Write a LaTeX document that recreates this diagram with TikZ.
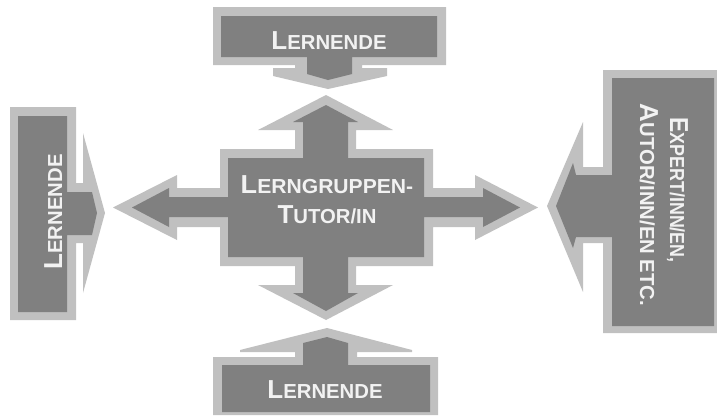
\documentclass[tikz,border=0pt]{standalone}
\usepackage{fontspec}
\setmainfont{Liberation Sans}
\definecolor{liteg}{HTML}{C0C0C0}
\definecolor{darkg}{HTML}{808080}
\definecolor{txtg}{HTML}{F2F2F2}
\newcommand\Kap[2]{{\fontsize{26}{30}\selectfont #1}{\fontsize{20.3}{30}\selectfont #2}}
\tikzset{
  lite/.style={fill=liteg},
  dark/.style={fill=darkg},
  lbl/.style={text=txtg, font=\bfseries, inner sep=0pt, anchor=base}
}
\begin{document}
\begin{tikzpicture}[x=1pt,y=-1pt]
\useasboundingbox (0,0) rectangle (717,416);
% ---- centre cross
\path[lite] (220,149) -- (295,149) -- (295,130) -- (258,130) -- (326,95) -- (393,130) -- (356,130) -- (356,149)
  -- (433,149) -- (433,188) -- (475,188) -- (475,175) -- (538,207.5) -- (475,240) -- (475,227) -- (433,227)
  -- (433,266) -- (356,266) -- (356,285) -- (393,285) -- (326,320) -- (258,285) -- (295,285) -- (295,266)
  -- (220,266) -- (220,227) -- (177,227) -- (177,240) -- (113,207.5) -- (177,175) -- (177,188) -- (220,188) -- cycle;
\path[dark] (228,158) -- (303,158) -- (303,122) -- (293,122) -- (326,105) -- (358,122) -- (348,122) -- (348,158)
  -- (424,158) -- (424,197) -- (483,197) -- (483,188) -- (520,207.5) -- (483,227) -- (483,217) -- (424,217)
  -- (424,257) -- (348,257) -- (348,293) -- (358,293) -- (326,311) -- (293,293) -- (303,293) -- (303,257)
  -- (228,257) -- (228,217) -- (169,217) -- (169,227) -- (132,207.5) -- (169,188) -- (169,197) -- (228,197) -- cycle;
% ---- top box
\path[lite] (213,7) -- (446,7) -- (446,65) -- (362,65) -- (362,68) -- (387,68) -- (387,76) -- (328,89)
  -- (273,76) -- (273,68) -- (295,68) -- (295,65) -- (213,65) -- cycle;
\path[dark] (221,16) -- (437,16) -- (437,57) -- (352,57) -- (352,74) -- (328,80) -- (307,74) -- (307,57) -- (221,57) -- cycle;
% ---- bottom box
\path[lite] (213,357) -- (295,357) -- (295,352) -- (240,352) -- (240,350) -- (327,328) -- (412,350) -- (412,352)
  -- (357,352) -- (357,357) -- (438,357) -- (438,415) -- (213,415) -- cycle;
\path[dark] (222,365) -- (303,365) -- (303,343) -- (327,337) -- (348,343) -- (348,365) -- (430,365) -- (430,412) -- (222,412) -- cycle;
% ---- left box
\path[lite] (10,107) -- (76,107) -- (76,183) -- (83,183) -- (83,133) -- (105,213) -- (83,293) -- (83,243)
  -- (76,243) -- (76,320) -- (10,320) -- cycle;
\path[dark] (18,116) -- (67,116) -- (67,192) -- (92,192) -- (97,213) -- (92,235) -- (67,235) -- (67,312) -- (18,312) -- cycle;
% ---- right box
\path[lite] (717,70) -- (603,70) -- (603,167) -- (583,167) -- (583,122) -- (547,206) -- (583,292) -- (583,243)
  -- (603,243) -- (603,333) -- (717,333) -- cycle;
\path[dark] (714,78) -- (612,78) -- (612,175) -- (576,175) -- (573,163) -- (556,206) -- (573,248) -- (576,237)
  -- (612,237) -- (612,326) -- (714,326) -- cycle;
% ---- texts
\node[lbl] (top) at (329,49) {\Kap{L}{ERNENDE}};
\node[lbl] (bot) at (325,398) {\Kap{L}{ERNENDE}};
\node[lbl] (ctr1) at (327,193) {\scalebox{1.04}[1]{\Kap{L}{ERNGRUPPEN-}}};
\node[lbl] (ctr2) at (327,223) {\Kap{T}{UTOR/IN}};
\node[lbl, rotate=90] (lft) at (62,212) {\Kap{L}{ERNENDE}};
\node[lbl, rotate=-90] (rgt1) at (670,190) {\scalebox{0.88}[1]{\Kap{E}{XPERT/INN/EN,}}};
\node[lbl, rotate=-90] (rgt2) at (640,205) {\Kap{A}{UTOR/INN/EN ETC.}};
\end{tikzpicture}
\end{document}
